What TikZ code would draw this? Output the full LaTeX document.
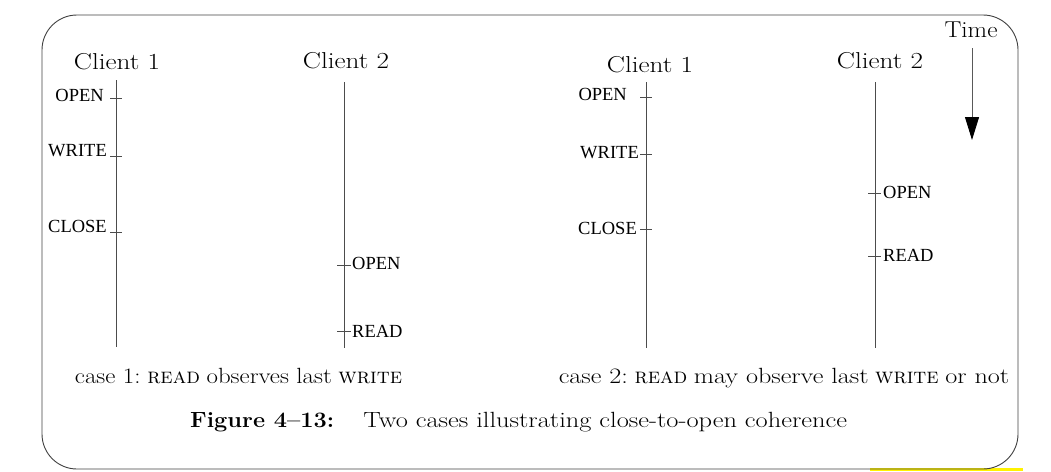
\documentclass[tikz,border=0pt]{standalone}
\usepackage{fontspec}
\usepackage{graphicx}
\newfontfamily\labelfont{Liberation Serif}
\usetikzlibrary{arrows.meta}
\newcommand{\widetxt}[2][1.13]{\scalebox{#1}[1]{#2}}
\begin{document}
\begin{tikzpicture}[x=1pt,y=-1pt,
  frame/.style={draw=black!75,line width=0.9pt},
  lifeline/.style={draw=black!70,line width=0.9pt},
  tick/.style={draw=black!70,line width=0.8pt},
  evlab/.style={inner sep=0pt,font=\labelfont\fontsize{18.5}{20}\selectfont},
  client/.style={inner sep=0pt,anchor=base,font=\fontsize{23}{27}\selectfont},
  casetxt/.style={inner sep=0pt,anchor=base,font=\fontsize{22}{26}\selectfont},
  timearrow/.style={draw=black!65,line width=0.9pt,-{Triangle[width=14pt,length=23pt,fill=black,color=black]}}]
\useasboundingbox (0,0) rectangle (1051,471);
\fill[yellow] (870,468) rectangle (1023,471);
\draw[frame,rounded corners=35pt] (42,15) rectangle (1018,469);
% ---------- case 1 ----------
\node[client] (c1a) at (117,69) {\widetxt[1.18]{Client 1}};
\node[client] (c2a) at (346,68) {\widetxt[1.18]{Client 2}};
\coordinate (l1top) at (116,80); \coordinate (l1bot) at (116,347);
\coordinate (l2top) at (344,82); \coordinate (l2bot) at (344,348);
\draw[lifeline] (l1top) -- (l1bot);
\draw[lifeline] (l2top) -- (l2bot);
\node[evlab,anchor=base east] (a1open) at (104,101) {OPEN};
\node[evlab,anchor=base east] (a1write) at (107,156) {WRITE};
\node[evlab,anchor=base east] (a1close) at (107,232) {CLOSE};
\draw[tick] (110,98) -- (122,98);
\draw[tick] (110,156) -- (122,156);
\draw[tick] (110,232) -- (122,232);
\node[evlab,anchor=base west] (a2open) at (352,269) {OPEN};
\node[evlab,anchor=base west] (a2read) at (352,337) {READ};
\draw[tick] (337,265) -- (351,265);
\draw[tick] (337,331) -- (351,331);
\node[casetxt] (case1) at (238.5,383) {\widetxt{case 1:} \textsc{read} \widetxt{observes last} \textsc{write}};
% ---------- case 2 ----------
\node[client] (c1b) at (650,72) {\widetxt[1.18]{Client 1}};
\node[client] (c2b) at (880,68) {\widetxt[1.18]{Client 2}};
\coordinate (l3top) at (646,82); \coordinate (l3bot) at (646,348);
\coordinate (l4top) at (875,82); \coordinate (l4bot) at (875,348);
\draw[lifeline] (l3top) -- (l3bot);
\draw[lifeline] (l4top) -- (l4bot);
\node[evlab,anchor=base east] (b1open) at (627,100) {OPEN};
\node[evlab,anchor=base east] (b1write) at (639,158) {WRITE};
\node[evlab,anchor=base east] (b1close) at (637,234) {CLOSE};
\draw[tick] (640,97) -- (652,97);
\draw[tick] (640,154) -- (652,154);
\draw[tick] (640,229) -- (652,229);
\node[evlab,anchor=base west] (b2open) at (883,198) {OPEN};
\node[evlab,anchor=base west] (b2read) at (883,261) {READ};
\draw[tick] (868,193) -- (881,193);
\draw[tick] (868,256) -- (881,256);
\node[casetxt] (case2) at (784,383) {\widetxt[1.19]{case 2:} \textsc{read} \widetxt[1.19]{may observe last} \textsc{write} \widetxt[1.19]{or not}};
% ---------- time ----------
\node[client] (time) at (971,37) {\widetxt[1.1]{Time}};
\coordinate (ttop) at (972,48); \coordinate (tbot) at (972,140);
\draw[timearrow] (ttop) -- (tbot);
% ---------- caption ----------
\node[inner sep=0pt,anchor=base west,font=\fontsize{22}{26}\selectfont] (cap) at (190,427)
  {\widetxt[1.07]{\textbf{Figure 4--13:}}\hspace{29pt}\widetxt[1.2]{Two cases illustrating close-to-open coherence}};
\end{tikzpicture}
\end{document}
